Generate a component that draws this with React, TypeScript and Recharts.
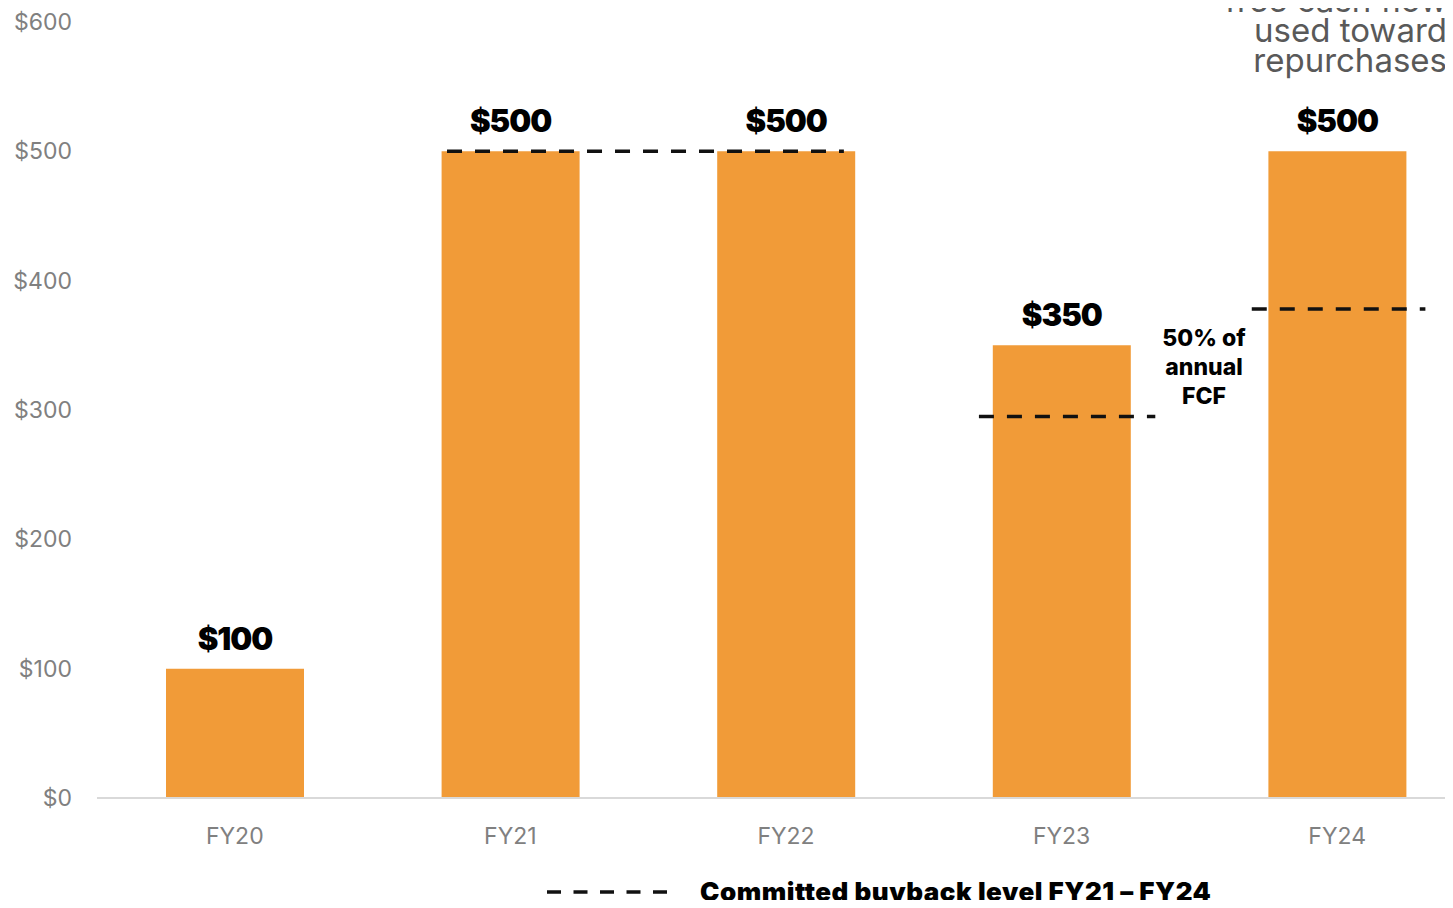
import { BarChart, Bar, XAxis, YAxis, LabelList, ReferenceLine, Legend } from 'recharts';

const categories = ['FY20', 'FY21', 'FY22', 'FY23', 'FY24'];
const buybacks = [100, 500, 500, 350, 500];
const yTicks = [0, 100, 200, 300, 400, 500, 600];

// committed buyback levels; x in category units (FY20 spans 0..1, FY21 1..2, ...)
const commitLevels = [500, 295, 378];
const commitFrom = [1.27, 3.2, 4.19];
const commitTo = [2.71, 3.84, 4.82];

const FONT = 'Inter, "Liberation Sans", Arial, sans-serif';
const ORANGE = '#F19B38';

const LegendContent = () => (
  <div style={{ display: 'flex', alignItems: 'center', fontFamily: FONT, height: 26 }}>
    <svg width={130} height={10}>
      <line x1={1} y1={5} x2={127} y2={5} stroke="#111" strokeWidth={3.5} strokeDasharray="14 12.5" />
    </svg>
    <span
      style={{
        marginLeft: 24,
        fontSize: 26,
        lineHeight: '26px',
        fontWeight: 900,
        color: '#000',
        whiteSpace: 'nowrap',
        letterSpacing: 0.5,
      }}
    >
      Committed buyback level FY21 – FY24
    </span>
  </div>
);

export default function App() {
  const data = categories.map((name, i) => ({ name, pos: i + 0.5, value: buybacks[i] }));

  return (
    <div style={{ position: 'relative', margin: -8, width: 1453, height: 908, overflow: 'hidden', background: '#fff' }}>
      <BarChart width={1475} height={908} data={data} margin={{ top: 22, right: 0, left: 0, bottom: 70 }}>
        <XAxis
          dataKey="pos"
          type="number"
          domain={[0, 5]}
          allowDataOverflow
          ticks={data.map((d) => d.pos)}
          tickFormatter={(v) => categories[Math.floor(v)]}
          height={40}
          axisLine={{ stroke: '#d9d9d9', strokeWidth: 2 }}
          tickLine={false}
          tickSize={0}
          tickMargin={30}
          tick={{ fontSize: 23, fill: '#808080', fontFamily: FONT }}
        />
        <YAxis
          width={97}
          domain={[0, 600]}
          ticks={yTicks}
          axisLine={false}
          tickLine={false}
          tickSize={0}
          tickMargin={25}
          tickFormatter={(v) => `$${v}`}
          tick={{ fontSize: 23, fill: '#808080', fontFamily: FONT }}
        />
        <Bar dataKey="value" fill={ORANGE} barSize={138} isAnimationActive={false}>
          <LabelList
            dataKey="value"
            position="top"
            offset={19}
            formatter={(v) => `$${v}`}
            style={{ fontSize: 31, fontWeight: 900, fill: '#000', fontFamily: FONT, letterSpacing: -1 }}
          />
        </Bar>
        {commitLevels.map((lvl, i) => (
          <ReferenceLine
            key={i}
            segment={[{ x: commitFrom[i], y: lvl }, { x: commitTo[i], y: lvl }]}
            stroke="#111"
            strokeWidth={3.5}
            strokeDasharray="15 13"
          />
        ))}
        <Legend
          verticalAlign="middle"
          align="center"
          content={<LegendContent />}
          wrapperStyle={{ top: 879, left: 546, width: 'auto' }}
        />
      </BarChart>

      <div
        style={{
          position: 'absolute',
          right: 6,
          top: -15,
          textAlign: 'right',
          fontFamily: FONT,
          fontSize: 33,
          lineHeight: '30px',
          color: '#595959',
        }}
      >
        free cash flow
        <br />
        used toward
        <br />
        repurchases
      </div>

      <div
        style={{
          position: 'absolute',
          left: 1144,
          width: 120,
          top: 324,
          textAlign: 'center',
          fontFamily: FONT,
          fontSize: 23,
          fontWeight: 800,
          lineHeight: '29px',
          color: '#000',
        }}
      >
        50% of
        <br />
        annual
        <br />
        FCF
      </div>
    </div>
  );
}
